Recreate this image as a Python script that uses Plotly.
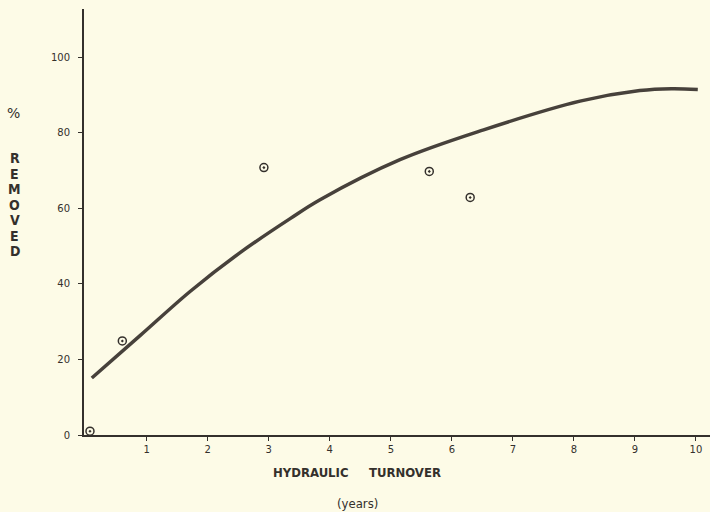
import plotly.graph_objects as go

# Data
obs_x = [0.07, 0.6, 2.92, 5.63, 6.30]
obs_y = [1.0, 24.9, 70.8, 69.8, 62.9]

fit_x = [0.1, 0.89, 1.71, 2.53, 3.35, 3.84, 5.15, 6.52, 8.1, 9.08, 9.6, 10.03]
fit_y = [15.1, 26.3, 38.0, 48.3, 57.3, 62.3, 72.9, 80.8, 88.4, 91.2, 91.7, 91.5]

x_ticks = [1, 2, 3, 4, 5, 6, 7, 8, 9, 10]
y_ticks = [0, 20, 40, 60, 80, 100]

y_word = list("REMOVED")
x_words = ["HYDRAULIC", "TURNOVER"]
x_unit = "(years)"

BG = "#fdfbe7"
INK = "#34302c"

W, H = 710, 512
L, R, T, B = 84, 0, 9, 77
PW, PH = W - L - R, H - T - B


def pxx(xp):
    return (xp - L) / PW


def pxy(yp):
    return (H - B - yp) / PH


fig = go.Figure()
fig.add_trace(go.Scatter(
    x=fit_x, y=fit_y, mode="lines",
    line=dict(color="#47413b", width=3.5, shape="spline", smoothing=1.0),
    hoverinfo="skip", showlegend=False,
))
fig.add_trace(go.Scatter(
    x=obs_x, y=obs_y, mode="markers",
    marker=dict(symbol="circle-open-dot", size=8, color=INK, line=dict(width=1.5, color=INK)),
    cliponaxis=False, showlegend=False,
))

annotations = [
    dict(text="%", x=pxx(13), y=pxy(113), xref="paper", yref="paper", showarrow=False,
         font=dict(family="DejaVu Sans", size=14, color=INK), xanchor="center", yanchor="middle"),
    dict(text=x_unit, x=pxx(357), y=pxy(503), xref="paper", yref="paper", showarrow=False,
         font=dict(family="DejaVu Sans Condensed", size=13, color=INK), xanchor="center", yanchor="middle"),
]
for cx, word in zip([311, 405], x_words):
    annotations.append(dict(
        text=word, x=pxx(cx), y=pxy(472), xref="paper", yref="paper", showarrow=False,
        font=dict(family="DejaVu Sans Condensed", size=13, color=INK, weight="bold"),
        xanchor="center", yanchor="middle"))
for i, ch in enumerate(y_word):
    annotations.append(dict(
        text=ch, x=pxx(14.5), y=pxy(158 + 15.5 * i), xref="paper", yref="paper", showarrow=False,
        font=dict(family="DejaVu Sans Condensed", size=14, color=INK, weight="bold"),
        xanchor="center", yanchor="middle"))

fig.update_layout(
    width=W, height=H,
    margin=dict(l=L, r=R, t=T, b=B, pad=0),
    paper_bgcolor=BG, plot_bgcolor=BG,
    annotations=annotations,
    xaxis=dict(range=[-0.028, 10.23], tickvals=x_ticks, ticktext=[str(v) for v in x_ticks],
               showgrid=False, zeroline=False, showline=True, linecolor=INK, linewidth=2,
               ticks="outside", ticklen=4, tickwidth=1, tickcolor=INK,
               tickfont=dict(family="DejaVu Sans", size=10, color=INK)),
    yaxis=dict(range=[0, 112.8], tickvals=y_ticks, ticktext=[str(v) for v in y_ticks],
               showgrid=False, zeroline=False, showline=True, linecolor=INK, linewidth=2,
               ticks="outside", ticklen=4, tickwidth=1, tickcolor=INK, ticklabelstandoff=6,
               tickfont=dict(family="DejaVu Sans", size=10, color=INK)),
)

fig.write_html(
    "out.html",
    config={"displayModeBar": False},
    post_script="document.body.style.margin='0px';document.body.style.overflow='hidden';",
)
